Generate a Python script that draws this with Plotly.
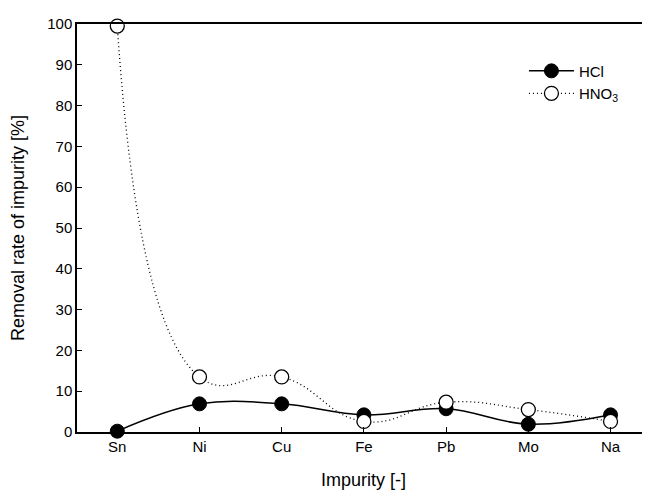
import plotly.graph_objects as go

categories = ["Sn", "Ni", "Cu", "Fe", "Pb", "Mo", "Na"]
hcl = [0.2, 6.9, 6.9, 4.2, 5.7, 1.9, 4.2]
hno3 = [99.5, 13.5, 13.5, 2.6, 7.3, 5.5, 2.6]

font_family = "Liberation Sans, Arial, sans-serif"

fig = go.Figure()
fig.add_trace(go.Scatter(
    x=categories, y=hcl, name="HCl", mode="lines+markers",
    line=dict(color="black", width=1.5, shape="spline", smoothing=1.1),
    marker=dict(symbol="circle", size=14, color="black", line=dict(color="black", width=1)),
    cliponaxis=False,
))
fig.add_trace(go.Scatter(
    x=categories, y=hno3, name="HNO<sub>3</sub>", mode="lines+markers",
    line=dict(color="black", width=1.3, dash="1px,3px", shape="spline", smoothing=1.3),
    marker=dict(symbol="circle", size=14, color="white", line=dict(color="black", width=1.3)),
    cliponaxis=False,
))

fig.update_layout(
    width=650, height=495,
    margin=dict(l=69, r=8, t=7, b=71),
    paper_bgcolor="white", plot_bgcolor="white",
    font=dict(family=font_family, size=15, color="black"),
    showlegend=True,
    legend=dict(x=0.78, y=0.925, xanchor="left", yanchor="top", itemwidth=45,
                bgcolor="rgba(0,0,0,0)", font=dict(size=15), tracegroupgap=0),
    xaxis=dict(
        type="category", range=[-0.49, 6.48],
        showline=True, linecolor="black", linewidth=1.5, mirror=True,
        ticks="inside", ticklen=5, tickwidth=1, tickcolor="black",
        showgrid=False, zeroline=False,
        title=dict(text="Impurity [-]", font=dict(size=18), standoff=20),
    ),
    yaxis=dict(
        range=[0, 100], dtick=10,
        showline=True, linecolor="black", linewidth=1.5,
        ticks="inside", ticklen=5, tickwidth=1, tickcolor="black",
        showgrid=False, zeroline=False,
        title=dict(text="Removal rate of impurity [%]", font=dict(size=18), standoff=18),
    ),
)

fig.write_html("out.html")
